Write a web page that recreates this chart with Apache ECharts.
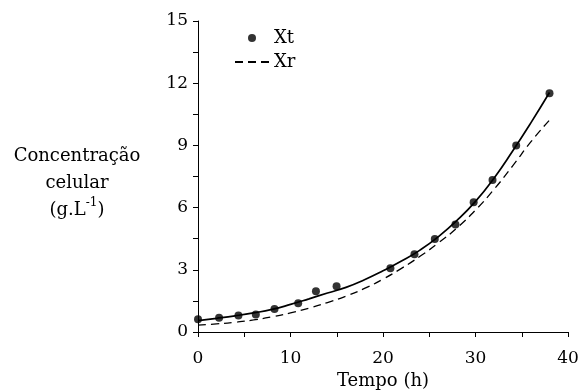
<!DOCTYPE html>
<html><head><meta charset="utf-8">
<script src="https://cdn.jsdelivr.net/npm/echarts@6/dist/echarts.min.js"></script>
<style>html,body{margin:0;padding:0;background:#fff}#c{width:582px;height:390px}</style>
</head><body><div id="c"></div>
<script>
// Measured points Xt
const xtTime = [0, 2.28, 4.37, 6.25, 8.27, 10.83, 12.75, 14.98, 20.8, 23.4, 25.6, 27.83, 29.8, 31.84, 34.4, 38.0];
const xtValue = [0.62, 0.69, 0.80, 0.85, 1.11, 1.39, 1.96, 2.21, 3.08, 3.75, 4.48, 5.18, 6.26, 7.33, 8.99, 11.52];
// Fitted curve (solid)
const fitTime = [0, 2, 4, 6, 8, 10, 12, 14, 16, 18, 20, 22, 24, 26, 28, 30, 32, 34, 36, 38];
const fitValue = [0.55, 0.66, 0.78, 0.92, 1.09, 1.33, 1.60, 1.88, 2.15, 2.52, 2.95, 3.42, 3.95, 4.60, 5.38, 6.30, 7.42, 8.72, 10.10, 11.55];
// Xr (dashed)
const xrTime = [0, 2, 4, 6, 8, 10, 12, 14, 16, 18, 20, 22, 24, 26, 28, 30, 32, 34, 36, 38];
const xrValue = [0.33, 0.39, 0.47, 0.58, 0.73, 0.92, 1.15, 1.42, 1.73, 2.10, 2.55, 3.07, 3.65, 4.30, 5.02, 5.88, 6.88, 8.00, 9.18, 10.22];

const xTicks = {min: 0, max: 40, step: 5, labelStep: 10};
const yTicks = {min: 0, max: 15, step: 1.5, labelStep: 3};

const FONT = 'DejaVu Serif';
const chart = echarts.init(document.getElementById('c'), null, {renderer: 'canvas'});
const zip = (a, b) => a.map((v, i) => [v, b[i]]);
chart.setOption({
  animation: false,
  backgroundColor: '#fff',
  grid: {left: 198, right: 14, top: 21, bottom: 58, containLabel: false, outerBoundsMode: 'none'},
  legend: {
    orient: 'vertical', left: 229, top: 24, itemWidth: 34, itemHeight: 8, itemGap: 6,
    textStyle: {fontFamily: FONT, fontSize: 18, color: '#000', padding: [0, 0, 0, 0]},
    data: [{name: 'Xt', icon: 'circle'}, {name: 'Xr', itemStyle: {opacity: 0}}]
  },
  xAxis: {
    type: 'value', min: xTicks.min, max: xTicks.max, interval: xTicks.step,
    splitLine: {show: false},
    axisLine: {lineStyle: {color: '#000', width: 1}},
    axisTick: {length: 5, lineStyle: {color: '#000'}},
    axisLabel: {fontFamily: FONT, fontSize: 17, color: '#000', margin: 18,
      formatter: v => (v % xTicks.labelStep === 0 ? String(v) : '')},
    name: 'Tempo (h)', nameLocation: 'middle', nameGap: 40,
    nameTextStyle: {fontFamily: FONT, fontSize: 18, color: '#000'}
  },
  yAxis: {
    type: 'value', min: yTicks.min, max: yTicks.max, interval: yTicks.step,
    splitLine: {show: false},
    axisLine: {show: true, lineStyle: {color: '#000', width: 1}},
    axisTick: {show: true, length: 5, lineStyle: {color: '#000'}},
    axisLabel: {fontFamily: FONT, fontSize: 17, color: '#000', margin: 10,
      formatter: v => (Math.abs(v % yTicks.labelStep) < 1e-9 ? String(v) : '')},
    name: 'Concentração\ncelular\n(g.L{sup|-1})', nameLocation: 'middle', nameRotate: 0, nameGap: 121,
    nameTextStyle: {fontFamily: FONT, fontSize: 18, color: '#000', align: 'center', lineHeight: 27,
      padding: [14, 0, 0, 0],
      rich: {sup: {fontFamily: FONT, fontSize: 12, color: '#000', verticalAlign: 'top', lineHeight: 27, padding: [0, 0, 7, 0]}}}
  },
  series: [
    {name: 'fit', type: 'line', data: zip(fitTime, fitValue), smooth: true, symbol: 'none',
      lineStyle: {color: '#000', width: 1.7}, z: 2},
    {name: 'Xr', type: 'line', data: zip(xrTime, xrValue), smooth: true, symbol: 'none',
      lineStyle: {color: '#000', width: 1.3, type: [8, 5]}, itemStyle: {color: '#000'}, z: 2},
    {name: 'Xt', type: 'scatter', data: zip(xtTime, xtValue), symbol: 'circle', symbolSize: 8,
      itemStyle: {color: '#000'}, z: 3}
  ]
});
</script></body></html>
